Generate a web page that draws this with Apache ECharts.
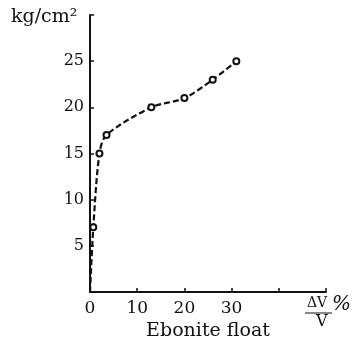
<!DOCTYPE html>
<html>
<head>
<meta charset="utf-8">
<script src="https://cdn.jsdelivr.net/npm/echarts@6/dist/echarts.min.js"></script>
<style>
  html, body { margin: 0; padding: 0; background: #fff; }
  #chart-container { width: 355px; height: 337px; }
</style>
</head>
<body>
<div id="chart-container"></div>
<script>
var dom = document.getElementById('chart-container');
var myChart = echarts.init(dom, null, { renderer: 'canvas' });

// swelling dV/V (%) vs pressure (kg/cm2)
var swell = [0, 0.7, 2, 3.5, 13, 20, 26, 31];
var pressure = [0, 7, 15, 17, 20, 21, 23, 25];
var xTickLabels = ['0', '10', '20', '30'];
var yTickLabels = ['5', '10', '15', '20', '25'];

var serif = '"DejaVu Serif", "Liberation Serif", serif';

var points = swell.map(function (x, i) {
  var p = { value: [x, pressure[i]] };
  if (i === 0) p.symbol = 'none';
  return p;
});

var option = {
  animation: false,
  backgroundColor: '#fff',
  grid: { left: 90, right: 29, top: 15, bottom: 45, outerBoundsMode: 'none' },
  xAxis: {
    type: 'value',
    min: 0, max: 50, interval: 10,
    name: 'Ebonite float',
    nameLocation: 'middle',
    nameGap: 27,
    nameTextStyle: { fontFamily: serif, fontSize: 19, color: '#111' },
    axisLine: { lineStyle: { color: '#111', width: 2 } },
    axisTick: { inside: true, length: 4, lineStyle: { color: '#111', width: 1.5 } },
    axisLabel: {
      margin: 8, fontFamily: serif, fontSize: 17, color: '#111',
      formatter: function (v) { return xTickLabels.indexOf(String(v)) >= 0 ? String(v) : ''; }
    },
    splitLine: { show: false }
  },
  yAxis: {
    type: 'value',
    min: 0, max: 30, interval: 5,
    axisLine: { lineStyle: { color: '#111', width: 2 } },
    axisTick: { inside: true, length: 4, lineStyle: { color: '#111', width: 1.5 } },
    axisLabel: {
      margin: 6, fontFamily: serif, fontSize: 16, color: '#111',
      formatter: function (v) { return yTickLabels.indexOf(String(v)) >= 0 ? String(v) : ''; }
    },
    splitLine: { show: false }
  },
  graphic: [
    { type: 'text', left: 11, top: 8, style: { text: 'kg/cm²', font: '19px ' + serif, fill: '#111' } },
    { type: 'text', left: 307, top: 296, style: { text: 'ΔV', font: '14px ' + serif, fill: '#111' } },
    { type: 'line', shape: { x1: 305, y1: 313, x2: 332, y2: 313 }, style: { stroke: '#111', lineWidth: 1 } },
    { type: 'text', left: 316, top: 314, style: { text: 'V', font: '16px ' + serif, fill: '#111' } },
    { type: 'text', left: 332, top: 295, style: { text: '%', font: 'italic 20px ' + serif, fill: '#111' } }
  ],
  series: [{
    type: 'line',
    data: points,
    smooth: 0.3,
    symbol: 'emptyCircle',
    symbolSize: 6,
    lineStyle: { color: '#111', width: 2.2, type: [6, 3] },
    itemStyle: { color: '#111', borderColor: '#111', borderWidth: 1.5 }
  }]
};

myChart.setOption(option);
window.addEventListener('resize', myChart.resize);
</script>
</body>
</html>
